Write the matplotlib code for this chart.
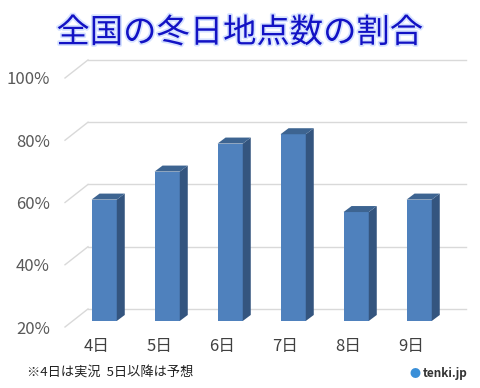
import matplotlib
matplotlib.use("Agg")
import matplotlib.pyplot as plt
import matplotlib.patheffects as pe
from matplotlib.patches import Polygon

plt.rcParams["font.family"] = ["Noto Sans CJK JP", "DejaVu Sans"]

DAYS = ["4日", "5日", "6日", "7日", "8日", "9日"]
SHARE = [59, 68, 77, 80, 55, 59]  # percent of stations with a winter day
YTICKS = [20, 40, 60, 80, 100]
YTICK_LABELS = ["20%", "40%", "60%", "80%", "100%"]

FRONT = "#4F81BD"
SIDE = "#34557F"
TOP = "#3D6491"
GRID = "#D9D9D9"

# fake 3D geometry (data units): full depth of the box, bar depth and bar position in it
DEPTH_X, DEPTH_Y = 0.365, 5.8
BAR_W = 0.40
BAR_DX, BAR_DY = 0.127, 1.93
BAR_F = 1 / 3


def main():
    fig = plt.figure(figsize=(4.8, 3.88), dpi=100)
    ax = fig.add_axes([65 / 480, 61 / 388, 378 / 480, 249 / 388])
    ax.set_xlim(-0.5, len(DAYS) - 0.5)
    ax.set_ylim(20, 100)
    for s in ax.spines.values():
        s.set_visible(False)

    # back wall gridlines + diagonal floor/wall edges on the left
    x0, x1 = -0.5, len(DAYS) - 0.5
    for v in YTICKS:
        ax.plot([x0 + DEPTH_X, x1 + DEPTH_X], [v + DEPTH_Y] * 2, color=GRID,
                lw=1, clip_on=False, zorder=1)
        ax.plot([x0, x0 + DEPTH_X], [v, v + DEPTH_Y], color=GRID, lw=1,
                clip_on=False, zorder=1)

    xs = [i + BAR_F * DEPTH_X for i in range(len(DAYS))]
    base = 20 + BAR_F * DEPTH_Y
    heights = [v - 20 for v in SHARE]
    bars = ax.bar(xs, heights, bottom=base, width=BAR_W, color=FRONT,
                  zorder=3, clip_on=False)
    for b in bars:
        xl, xr = b.get_x(), b.get_x() + b.get_width()
        yb, yt = b.get_y(), b.get_y() + b.get_height()
        side = Polygon([(xr, yb), (xr + BAR_DX, yb + BAR_DY),
                        (xr + BAR_DX, yt + BAR_DY), (xr, yt)],
                       closed=True, fc=SIDE, ec="none", zorder=3, clip_on=False)
        top = Polygon([(xl, yt), (xl + BAR_DX, yt + BAR_DY),
                       (xr + BAR_DX, yt + BAR_DY), (xr, yt)],
                      closed=True, fc=TOP, ec="none", zorder=3, clip_on=False)
        ax.add_patch(side)
        ax.add_patch(top)

    ax.set_yticks(YTICKS, YTICK_LABELS)
    ax.set_xticks(range(len(DAYS)), DAYS)
    ax.tick_params(axis="y", length=0, pad=11, labelsize=12, labelcolor="#595959")
    ax.tick_params(axis="x", length=0, pad=8, labelsize=12, labelcolor="#404040")

    title = fig.text(0.5, 1 - 33 / 388, "全国の冬日地点数の割合", ha="center",
                     va="center", fontsize=24, color="#1212C4", fontweight="normal")
    title.set_path_effects([pe.withStroke(linewidth=2.5, foreground="#D6E2FF")])

    fig.text(27 / 480, 1 - 372 / 388, "※4日は実況  5日以降は予想", ha="left",
             va="center", fontsize=9.5, color="#222222")
    fig.text(423 / 480, 1 - 374 / 388, "tenki.jp", ha="left", va="center",
             fontsize=8.5, fontweight="bold", color="#333333")
    fig.text(415 / 480, 1 - 374 / 388, "●", ha="center", va="center",
             fontsize=8, color="#3A8FD8")

    fig.savefig("out.png", dpi=100, facecolor="white")
    plt.close(fig)


if __name__ == "__main__":
    main()
